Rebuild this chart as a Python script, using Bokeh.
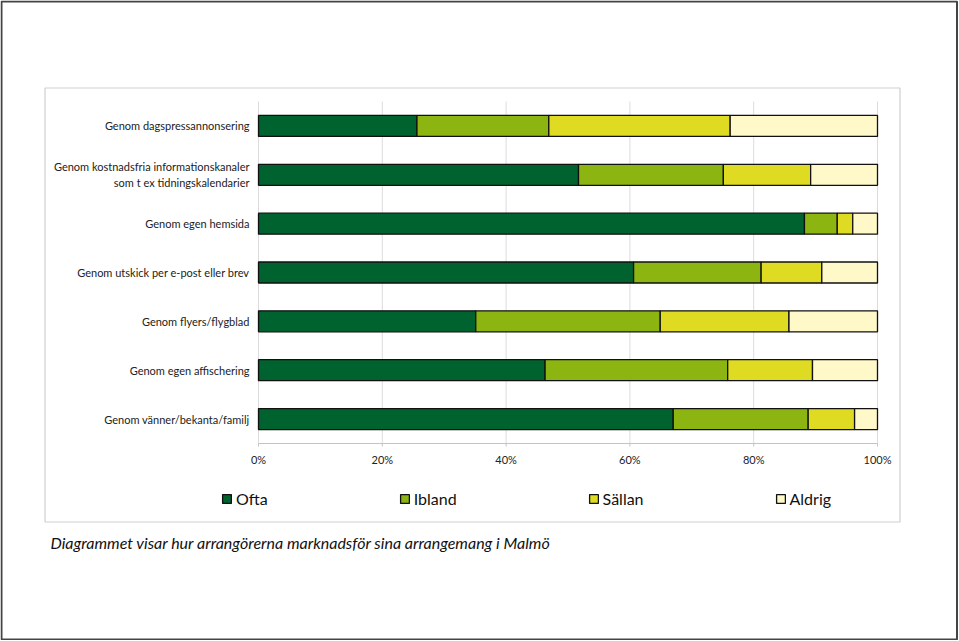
from bokeh.plotting import figure
from bokeh.models import (ColumnDataSource, Range1d, Legend, LegendItem, BoxAnnotation, Label)
from bokeh.core.properties import value
from bokeh.embed import file_html
from bokeh.resources import INLINE

# ---- data ----
categories = [
    "Genom dagspressannonsering",
    "Genom kostnadsfria informationskanaler\nsom t ex tidningskalendarier",
    "Genom egen hemsida",
    "Genom utskick per e-post eller brev",
    "Genom flyers/flygblad",
    "Genom egen affischering",
    "Genom vänner/bekanta/familj",
]
ofta = [25.6, 51.7, 88.2, 60.6, 35.1, 46.3, 67.0]
ibland = [21.3, 23.4, 5.3, 20.6, 29.8, 29.5, 21.8]
sallan = [29.3, 14.1, 2.5, 9.8, 20.8, 13.7, 7.5]
aldrig = [23.8, 10.8, 4.0, 9.0, 14.3, 10.5, 3.7]
series = ["Ofta", "Ibland", "Sällan", "Aldrig"]
colors = ["#00622e", "#8db511", "#dedb22", "#fff8c9"]
x_ticks = [0, 20, 40, 60, 80, 100]
x_tick_labels = ["0%", "20%", "40%", "60%", "80%", "100%"]
caption = "Diagrammet visar hur arrangörerna marknadsför sina arrangemang i Malmö"

FONT = "Lato"

# ---- layout (pixels on the page) ----
W, H = 958, 640
X0, X100 = 258, 877          # plot area left/right
YTOP, YBOT = 101, 443        # plot area top/bottom
n = len(categories)
SX = (X100 - X0) / 100.0
SY = (YBOT - YTOP) / n

def dx(X):
    return (X - X0) / SX

def dy(Y):
    return 0.5 + (Y - YTOP) / SY

ypos = list(range(1, n + 1))
src = ColumnDataSource(dict(y=ypos, Ofta=ofta, Ibland=ibland, Sällan=sallan, Aldrig=aldrig))

p = figure(width=W, height=H, output_backend="svg", toolbar_location=None,
           x_range=Range1d(dx(0), dx(W)), y_range=Range1d(dy(H), dy(0)),
           x_axis_location=None, y_axis_location=None,
           min_border=0, min_border_left=0, min_border_right=0,
           min_border_top=0, min_border_bottom=0)
p.outline_line_color = None
p.grid.visible = False
p.background_fill_color = "white"
p.border_fill_color = "white"

# outer border and chart box
p.add_layout(BoxAnnotation(left=dx(1), right=dx(W - 1.5), top=dy(1), bottom=dy(H - 1),
                           fill_alpha=0, line_color="#444444", line_alpha=1.0,
                           line_width=2, level="underlay"))
p.add_layout(BoxAnnotation(left=dx(44.5), right=dx(899.5), top=dy(87.5), bottom=dy(521.5),
                           fill_alpha=0, line_color="#cfcfcf", line_alpha=1.0,
                           line_width=1.2, level="underlay"))

# vertical grid lines over the plot area
p.segment(x0=x_ticks, x1=x_ticks, y0=[0.5] * len(x_ticks), y1=[n + 0.5] * len(x_ticks),
          line_color="#dcdcdc", line_width=1)

# x axis line, ticks and labels
p.segment(x0=[x_ticks[0]], x1=[x_ticks[-1]], y0=[n + 0.5], y1=[n + 0.5],
          line_color="#c4c4c4", line_width=1)
p.segment(x0=x_ticks, x1=x_ticks, y0=[n + 0.5] * len(x_ticks),
          y1=[n + 0.5 + 3 / SY] * len(x_ticks), line_color="#c4c4c4", line_width=1)
p.text(x=x_ticks, y=[dy(459)] * len(x_ticks), text=x_tick_labels,
       text_font=value(FONT), text_font_size="11px", text_color="#222222",
       text_align="center", text_baseline="middle")

# category labels
p.text(x=[dx(249)] * n, y=ypos, text=categories,
       text_font=value(FONT), text_font_size="11px", text_color="#222222",
       text_align="right", text_baseline="middle", text_line_height=1.25)

# bars
renderers = p.hbar_stack(series, y="y", height=0.43, source=src, color=colors,
                         line_color="#111111", line_width=1.3)

# legend
legend = Legend(items=[LegendItem(label=s, renderers=[r]) for s, r in zip(series, renderers)],
                orientation="horizontal", location=(221, H - 507.5),
                label_text_font=FONT, label_text_font_size="16px", label_text_color="#111111",
                glyph_width=11, glyph_height=11, label_standoff=4, spacing=131,
                label_height=19, padding=0, margin=0, border_line_color=None,
                background_fill_alpha=0)
p.add_layout(legend, "center")

# caption
p.add_layout(Label(x=dx(50), y=dy(542), text=caption, text_font=FONT,
                   text_font_style="italic", text_font_size="16px", text_color="#111111",
                   text_baseline="middle", text_align="left"))

open("out.html", "w").write(file_html(p, INLINE))
